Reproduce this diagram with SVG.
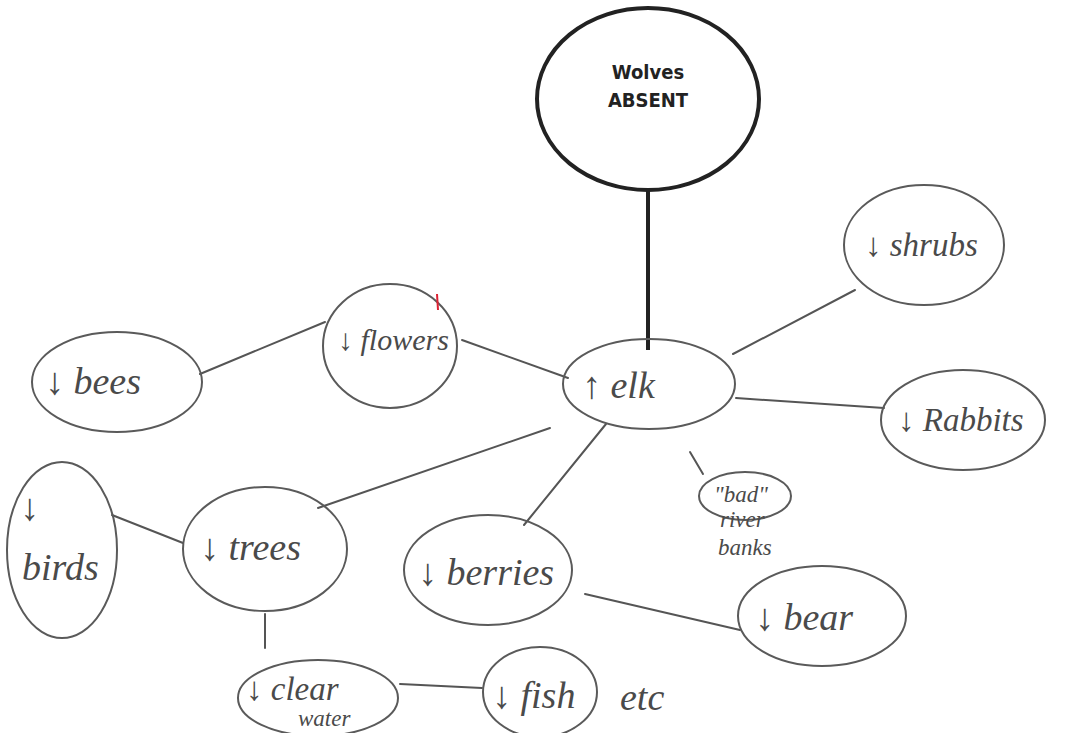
<svg xmlns="http://www.w3.org/2000/svg" width="1069" height="733" viewBox="0 0 1069 733">
<style>
.bg{fill:#ffffff}
.node{fill:none;stroke:#5a5a5a;stroke-width:2}
.conn{fill:none;stroke:#555;stroke-width:2;stroke-linecap:round}
.hand{font-family:"Liberation Serif",serif;font-style:italic;fill:#4a4a4a;font-size:38px}
.mid{font-size:33px}
.fl{font-size:30px}
.small{font-size:23px}
.title{font-family:"DejaVu Sans Condensed","DejaVu Sans",sans-serif;font-weight:bold;font-size:20px;fill:#222;text-anchor:middle}
</style>
<rect class="bg" x="0" y="0" width="1069" height="733"/>
<g id="connectors">
  <line x1="648" y1="190" x2="648" y2="350" stroke="#222" stroke-width="4"/>
  <line class="conn" x1="200" y1="374" x2="325" y2="322"/>
  <line class="conn" x1="462" y1="340" x2="568" y2="378"/>
  <line class="conn" x1="733" y1="354" x2="855" y2="290"/>
  <line class="conn" x1="736" y1="398" x2="884" y2="408"/>
  <line class="conn" x1="550" y1="428" x2="318" y2="508"/>
  <line class="conn" x1="112" y1="515" x2="183" y2="543"/>
  <line class="conn" x1="606" y1="424" x2="524" y2="525"/>
  <line class="conn" x1="585" y1="594" x2="740" y2="630"/>
  <line class="conn" x1="690" y1="452" x2="703" y2="474"/>
  <line class="conn" x1="265" y1="614" x2="265" y2="648"/>
  <line class="conn" x1="400" y1="684" x2="482" y2="688"/>
</g>
<g id="wolves">
  <ellipse cx="648" cy="99" rx="111" ry="91" fill="none" stroke="#222" stroke-width="4"/>
  <text class="title" x="648" y="79">Wolves</text>
  <text class="title" x="648" y="107">ABSENT</text>
</g>
<g id="elk">
  <ellipse class="node" cx="649" cy="384" rx="86" ry="45"/>
  <text class="hand" x="582" y="398">↑ elk</text>
</g>
<g id="flowers">
  <ellipse class="node" cx="390" cy="346" rx="67" ry="62"/>
  <text class="hand fl" x="338" y="350">↓ flowers</text>
  <line x1="437" y1="294" x2="438" y2="310" stroke="#d23" stroke-width="2"/>
</g>
<g id="bees">
  <ellipse class="node" cx="117" cy="382" rx="85" ry="50"/>
  <text class="hand" x="45" y="394">↓ bees</text>
</g>
<g id="shrubs">
  <ellipse class="node" cx="924" cy="245" rx="80" ry="60"/>
  <text class="hand mid" x="865" y="256">↓ shrubs</text>
</g>
<g id="rabbits">
  <ellipse class="node" cx="963" cy="420" rx="82" ry="50"/>
  <text class="hand mid" x="898" y="431">↓ Rabbits</text>
</g>
<g id="trees">
  <ellipse class="node" cx="265" cy="549" rx="82" ry="62"/>
  <text class="hand" x="200" y="560">↓ trees</text>
</g>
<g id="birds">
  <ellipse class="node" cx="62" cy="550" rx="55" ry="88"/>
  <text class="hand" x="20" y="520">↓</text>
  <text class="hand" x="22" y="580">birds</text>
</g>
<g id="berries">
  <ellipse class="node" cx="488" cy="570" rx="84" ry="55"/>
  <text class="hand" x="418" y="585">↓ berries</text>
</g>
<g id="bear">
  <ellipse class="node" cx="822" cy="616" rx="84" ry="50"/>
  <text class="hand" x="755" y="630">↓ bear</text>
</g>
<g id="riverbanks">
  <ellipse class="node" cx="745" cy="496" rx="46" ry="24"/>
  <text class="hand small" x="714" y="502">"bad"</text>
  <text class="hand small" x="720" y="527">river</text>
  <text class="hand small" x="718" y="555">banks</text>
</g>
<g id="clearwater">
  <ellipse class="node" cx="318" cy="698" rx="80" ry="38"/>
  <text class="hand mid" x="246" y="700">↓ clear</text>
  <text class="hand small" x="298" y="726">water</text>
</g>
<g id="fish">
  <ellipse class="node" cx="540" cy="692" rx="57" ry="45"/>
  <text class="hand" x="492" y="708">↓ fish</text>
</g>
<g id="etc">
  <text class="hand" x="620" y="710">etc</text>
</g>
</svg>
